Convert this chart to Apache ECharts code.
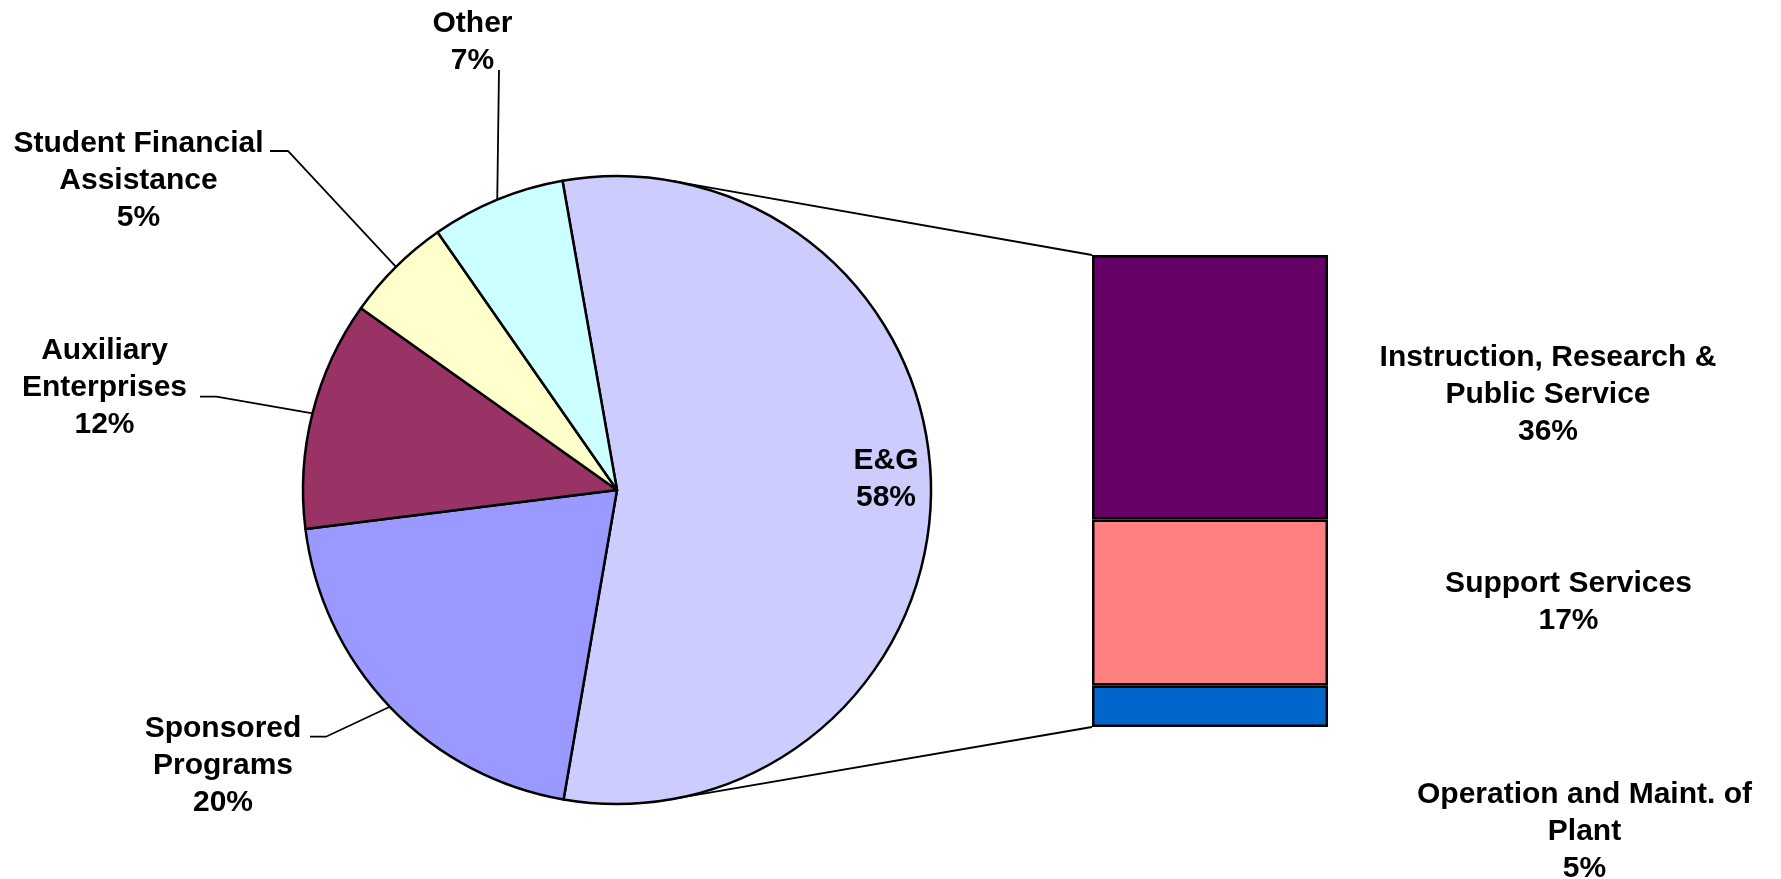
<!DOCTYPE html>
<html>
<head>
<meta charset="utf-8">
<script src="https://cdn.jsdelivr.net/npm/echarts@6/dist/echarts.min.js"></script>
<style>
html,body{margin:0;padding:0;background:#fff;}
#chart{width:1781px;height:879px;}
</style>
</head>
<body>
<div id="chart"></div>
<script>
// ---- data ----
const sliceNames = ['E&G', 'Sponsored\nPrograms', 'Auxiliary\nEnterprises', 'Student Financial\nAssistance', 'Other'];
const sliceShares = [55.5, 20.3, 11.8, 5.5, 6.9];       // measured slice sizes
const slicePctLabels = [58, 20, 12, 5, 7];              // printed percentages
const sliceColors = ['#CCCCFF', '#9999FF', '#993366', '#FFFFCC', '#CCFFFF'];

const barNames = ['Operation and Maint. of\nPlant', 'Support Services', 'Instruction, Research &\nPublic Service'];
const barValues = [5.1, 20.4, 32.5];                    // measured segment sizes (bottom to top)
const barPctLabels = [5, 17, 36];                       // printed percentages
const barColors = ['#0066CC', '#FF8080', '#660066'];

// ---- layout ----
const PIE = { cx: 617, cy: 490, r: 314, startAngle: 100 };
const GRID = { left: 1092, top: 255, width: 236, height: 472 };
const FONT = 'Liberation Sans, Arial, sans-serif';
const FS = 30, LH = 37;

// label anchor positions (centre of text block) for pie labels
const pieLabelPos = [
  { x: 886, y: 479.5 },
  { x: 223, y: 766 },
  { x: 104.5, y: 388 },
  { x: 138.5, y: 181 },
  { x: 472.5, y: 42 }
];
// leader line elbow / end offsets relative to label anchor
const pieLeader = [
  null,
  { mx: 103, my: -29.3, ex: 87, ey: -29.3 },
  { mx: 112, my: 8.7, ex: 95.5, ey: 8.7 },
  { mx: 149.5, my: -30, ex: 131.5, ey: -30 },
  { mx: 26.5, my: 28, ex: 26.5, ey: 28 }
];
// bar label placement: distance right of bar, vertical offset
const barLabelPlace = [
  { d: 256.5, dy: 125 },
  { d: 240.5, dy: 0 },
  { d: 220, dy: 7 }
];

const chart = echarts.init(document.getElementById('chart'), null, { renderer: 'canvas' });

const total = sliceShares.reduce((a, b) => a + b, 0);
function midPoint(i) {
  let acc = 0;
  for (let k = 0; k < i; k++) acc += sliceShares[k];
  const midDeg = PIE.startAngle - (acc + sliceShares[i] / 2) / total * 360;
  const a = midDeg * Math.PI / 180;
  return [PIE.cx + PIE.r * Math.cos(a), PIE.cy - PIE.r * Math.sin(a)];
}

const pieData = sliceNames.map((n, i) => ({
  name: n,
  value: sliceShares[i],
  pct: slicePctLabels[i],
  itemStyle: { color: sliceColors[i] },
  label: { position: i === 0 ? 'inside' : 'outside' },
  labelLine: { show: i !== 0 }
}));

const barSeries = barNames.map((n, i) => ({
  name: n,
  type: 'bar',
  stack: 'eg',
  barWidth: '100%',
  data: [barValues[i]],
  itemStyle: { color: barColors[i], borderColor: '#000', borderWidth: 2.5 },
  label: {
    show: true,
    position: 'right',
    distance: barLabelPlace[i].d,
    offset: [0, barLabelPlace[i].dy],
    align: 'center',
    verticalAlign: 'middle',
    fontFamily: FONT,
    fontWeight: 'bold',
    fontSize: FS,
    lineHeight: LH,
    color: '#000',
    formatter: () => n + '\n' + barPctLabels[i] + '%'
  },
  emphasis: { disabled: true },
  silent: true
}));

function tangentPoint(px, py, sign) {
  const dx = PIE.cx - px, dy = PIE.cy - py;
  const d = Math.sqrt(dx * dx + dy * dy);
  const alpha = Math.asin(PIE.r / d);
  const base = Math.atan2(dy, dx);
  const th = base + sign * alpha;
  const L = Math.sqrt(d * d - PIE.r * PIE.r);
  return [px + L * Math.cos(th), py + L * Math.sin(th)];
}
const topCorner = [GRID.left, GRID.top];
const botCorner = [GRID.left, GRID.top + GRID.height];
const tTop = tangentPoint(topCorner[0], topCorner[1], 1);
const tBot = tangentPoint(botCorner[0], botCorner[1], -1);

const option = {
  backgroundColor: '#ffffff',
  animation: false,
  grid: { left: GRID.left, top: GRID.top, width: GRID.width, height: GRID.height, containLabel: false },
  xAxis: { type: 'category', data: ['E&G'], show: false, boundaryGap: true },
  yAxis: { type: 'value', min: 0, max: barValues.reduce((a, b) => a + b, 0), show: false },
  graphic: [
    { type: 'polyline', shape: { points: [tTop, topCorner] }, style: { stroke: '#000', lineWidth: 1.8, fill: null }, z: 1 },
    { type: 'polyline', shape: { points: [tBot, botCorner] }, style: { stroke: '#000', lineWidth: 1.8, fill: null }, z: 1 }
  ],
  series: [
    {
      type: 'pie',
      center: [PIE.cx, PIE.cy],
      radius: PIE.r,
      startAngle: PIE.startAngle,
      clockwise: true,
      avoidLabelOverlap: false,
      silent: true,
      emphasis: { disabled: true },
      z: 3,
      itemStyle: { borderColor: '#000', borderWidth: 2.5 },
      label: {
        show: true,
        fontFamily: FONT,
        fontWeight: 'bold',
        fontSize: FS,
        lineHeight: LH,
        color: '#000',
        align: 'center',
        formatter: p => p.name + '\n' + p.data.pct + '%'
      },
      labelLine: { show: true, length: 20, length2: 15, smooth: false, lineStyle: { color: '#000', width: 1.8 } },
      labelLayout: function (params) {
        const i = params.dataIndex;
        const pos = pieLabelPos[i];
        const res = { x: pos.x, y: pos.y, align: 'center', verticalAlign: 'middle' };
        const l = pieLeader[i];
        if (l) {
          const start = midPoint(i);
          res.labelLinePoints = [start, [pos.x + l.mx, pos.y + l.my], [pos.x + l.ex, pos.y + l.ey]];
        }
        return res;
      },
      data: pieData
    }
  ].concat(barSeries)
};
chart.setOption(option);
</script>
</body>
</html>
